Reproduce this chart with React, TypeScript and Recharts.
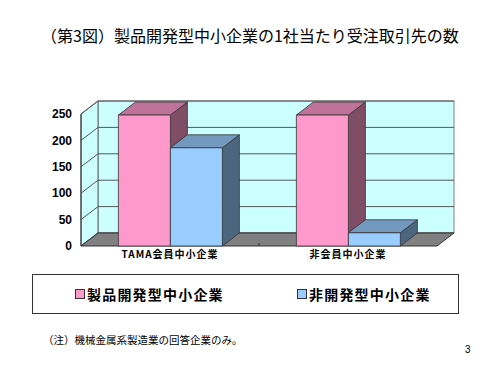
import { BarChart, Bar, XAxis, YAxis, ReferenceArea } from 'recharts';

// Values (pseudo-3D column chart)
const CATEGORIES = ['TAMA会員中小企業', '非会員中小企業'];
const DEV_VALUES = [248, 248];
const NONDEV_VALUES = [186, 25];
const SERIES_NAMES = ['製品開発型中小企業', '非開発型中小企業'];
const Y_TICKS = [0, 50, 100, 150, 200, 250];
const Y_MAX = 250;

const TITLE = '（第3図）製品開発型中小企業の1社当たり受注取引先の数';
const NOTE = '（注）機械金属系製造業の回答企業のみ。';
const PAGE = '3';

// depth offset of the 3D box
const DX = 17;
const DY = -13;

const PINK = { front: '#FF99CC', top: '#C0739A', side: '#804D66' };
const BLUE = { front: '#99CCFF', top: '#7399BF', side: '#4D6680' };

const CJK = '"Noto Sans CJK JP", "Noto Sans", sans-serif';

const data = CATEGORIES.map((name, i) => ({
  name,
  dev: DEV_VALUES[i],
  nondev: NONDEV_VALUES[i]
}));

const pts = (arr: number[][]) => arr.map(p => p.join(',')).join(' ');

// walls, floor and gridlines, drawn from the reference area rect (full plot)
const Walls = (props: any) => {
  const { x, y, width, height } = props;
  const bottom = y + height;
  return (
    <g>
      <rect x={x + DX} y={y + DY} width={width} height={height} fill="#CCFFFF" stroke="#808080" strokeWidth={1} />
      <polygon
        points={pts([[x, bottom], [x, y], [x + DX, y + DY], [x + DX, bottom + DY]])}
        fill="#CCFFFF"
        stroke="#606060"
        strokeWidth={1}
      />
      {Y_TICKS.map(t => {
        const yy = bottom - (t / Y_MAX) * height;
        return (
          <g key={t}>
            <line x1={x + DX} y1={yy + DY} x2={x + DX + width} y2={yy + DY} stroke="#555" strokeWidth={1} />
            <line x1={x} y1={yy} x2={x + DX} y2={yy + DY} stroke="#555" strokeWidth={1} />
          </g>
        );
      })}
      <polygon
        points={pts([[x, bottom], [x + width, bottom], [x + width + DX, bottom + DY], [x + DX, bottom + DY]])}
        fill="#808080"
        stroke="#333"
        strokeWidth={1}
      />
      <line x1={x} y1={bottom} x2={x} y2={y} stroke="#333" strokeWidth={1} />
      <line x1={x + width / 2} y1={bottom} x2={x + width / 2} y2={bottom - 3} stroke="#333" strokeWidth={1} />
    </g>
  );
};

const makeBox = (c: { front: string; top: string; side: string }) => (props: any) => {
  const { x, y, width, height } = props;
  if (!height || height <= 0) return <g />;
  const r = x + width;
  const b = y + height;
  return (
    <g stroke="#333" strokeWidth={0.8} strokeLinejoin="round">
      <polygon points={pts([[r, y], [r + DX, y + DY], [r + DX, b + DY], [r, b]])} fill={c.side} />
      <polygon points={pts([[x, y], [x + DX, y + DY], [r + DX, y + DY], [r, y]])} fill={c.top} />
      <rect x={x} y={y} width={width} height={height} fill={c.front} />
    </g>
  );
};

const LegendBox = () => (
  <div
    style={{
      position: 'absolute',
      left: 32,
      top: 274,
      width: 427,
      height: 40,
      boxSizing: 'border-box',
      border: '1px solid #333',
      background: '#fff',
      fontFamily: CJK,
      fontSize: 14,
      fontWeight: 700,
      letterSpacing: 1.2,
      color: '#000'
    }}
  >
    {SERIES_NAMES.map((n, i) => (
      <div
        key={n}
        style={{
          position: 'absolute',
          left: i === 0 ? 42 : 264,
          top: 0,
          height: 38,
          display: 'flex',
          alignItems: 'center'
        }}
      >
        <span
          style={{
            display: 'inline-block',
            width: 8,
            height: 8,
            border: '1px solid #333',
            background: i === 0 ? PINK.front : BLUE.front,
            marginRight: 2
          }}
        />
        {n}
      </div>
    ))}
  </div>
);

export default function App() {
  return (
    <div style={{ position: 'absolute', left: 0, top: 0, width: 500, height: 374, background: '#fff' }}>
      <div
        style={{
          position: 'absolute',
          left: 0,
          top: 24,
          width: 500,
          textAlign: 'center',
          fontFamily: CJK,
          fontSize: 16,
          lineHeight: '22px',
          color: '#000'
        }}
      >
        {TITLE}
      </div>
      <BarChart
        width={500}
        height={374}
        data={data}
        margin={{ top: 114, right: 63, left: 41, bottom: 98 }}
        barCategoryGap="21%"
        barGap={0}
        style={{ position: 'absolute', left: 0, top: 0 }}
      >
        <ReferenceArea y1={0} y2={Y_MAX} shape={<Walls />} ifOverflow="visible" />
        <XAxis
          dataKey="name"
          height={30}
          axisLine={false}
          tickLine={false}
          tickSize={0}
          tickMargin={5}
          tick={{ fontSize: 10, fill: '#000', fontFamily: CJK, fontWeight: 700, letterSpacing: 1 }}
        />
        <YAxis
          width={40}
          domain={[0, Y_MAX]}
          ticks={Y_TICKS}
          interval={0}
          axisLine={false}
          tickLine={false}
          tickSize={0}
          tickMargin={9}
          tick={{ fontSize: 12, fill: '#000', fontFamily: '"Liberation Sans", Arial, sans-serif', fontWeight: 700 }}
        />
        <Bar dataKey="dev" name={SERIES_NAMES[0]} fill={PINK.front} shape={makeBox(PINK)} isAnimationActive={false} />
        <Bar dataKey="nondev" name={SERIES_NAMES[1]} fill={BLUE.front} shape={makeBox(BLUE)} isAnimationActive={false} />
      </BarChart>
      <LegendBox />
      <div
        style={{
          position: 'absolute',
          left: 43,
          top: 333,
          fontFamily: CJK,
          fontSize: 10.5,
          lineHeight: '14px',
          color: '#000'
        }}
      >
        {NOTE}
      </div>
      <div
        style={{
          position: 'absolute',
          left: 465,
          top: 344,
          fontFamily: '"Liberation Sans", Arial, sans-serif',
          fontSize: 10,
          color: '#000'
        }}
      >
        {PAGE}
      </div>
    </div>
  );
}
